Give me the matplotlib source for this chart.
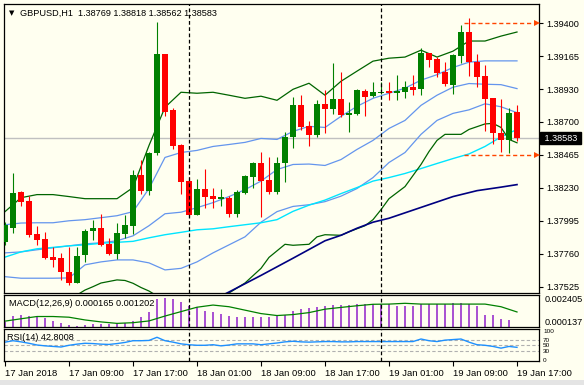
import numpy as np
import matplotlib
matplotlib.use("Agg")
import matplotlib.pyplot as plt
from matplotlib.transforms import blended_transform_factory
from matplotlib.patches import Rectangle

plt.rcParams['font.family'] = ['Liberation Sans', 'DejaVu Sans']

# ---- GBPUSD H1 candles, 17 Jan 01:00 .. 19 Jan 17:00 ----
opens = [1.37846, 1.37946, 1.38202, 1.38138, 1.37903, 1.37867, 1.37739, 1.37732, 1.37632, 1.37553,
         1.37753, 1.37924, 1.37946, 1.37831, 1.37760, 1.37903, 1.37960, 1.38323, 1.38209, 1.38473,
         1.39179, 1.38780, 1.38530, 1.38281, 1.38038, 1.38224, 1.38174, 1.38152, 1.38159, 1.38045,
         1.38195, 1.38309, 1.38409, 1.38288, 1.38202, 1.38402, 1.38587, 1.38815, 1.38666, 1.38601,
         1.38822, 1.38787, 1.38858, 1.38744, 1.38751, 1.38915, 1.38880, 1.38901, 1.38915, 1.38901,
         1.38908, 1.38944, 1.38929, 1.39186, 1.39143, 1.39051, 1.38958, 1.39165, 1.39336, 1.39122,
         1.39022, 1.38865, 1.38616, 1.38566, 1.38769]
highs = [1.37988, 1.38338, 1.38209, 1.38174, 1.37960, 1.37917, 1.37810, 1.37767, 1.37810, 1.37810,
         1.37938, 1.38003, 1.38045, 1.37874, 1.37981, 1.38038, 1.38359, 1.38430, 1.38487, 1.39407,
         1.39179, 1.38794, 1.38544, 1.38309, 1.38295, 1.38366, 1.38231, 1.38224, 1.38174, 1.38216,
         1.38323, 1.38416, 1.38487, 1.38445, 1.38445, 1.38623, 1.38872, 1.38887, 1.38701, 1.38851,
         1.38922, 1.39115, 1.39051, 1.38837, 1.38929, 1.38929, 1.38979, 1.38979, 1.38979, 1.39029,
         1.38986, 1.39029, 1.39222, 1.39186, 1.39158, 1.39122, 1.39179, 1.39386, 1.39436, 1.39179,
         1.39101, 1.38865, 1.38858, 1.38794, 1.38818]
lows = [1.37824, 1.37910, 1.38102, 1.37881, 1.37824, 1.37724, 1.37667, 1.37575, 1.37539, 1.37553,
        1.37703, 1.37860, 1.37817, 1.37753, 1.37724, 1.37874, 1.37903, 1.38188, 1.38181, 1.38459,
        1.38737, 1.38502, 1.38188, 1.38024, 1.38038, 1.38088, 1.38088, 1.38102, 1.38024, 1.38024,
        1.38188, 1.38231, 1.38024, 1.38188, 1.38188, 1.38273, 1.38509, 1.38637, 1.38523, 1.38587,
        1.38616, 1.38751, 1.38730, 1.38623, 1.38744, 1.38737, 1.38872, 1.38894, 1.38851, 1.38851,
        1.38865, 1.38887, 1.38887, 1.39086, 1.39015, 1.38951, 1.38894, 1.39115, 1.39022, 1.38944,
        1.38630, 1.38544, 1.38487, 1.38473, 1.38562]
closes = [1.37967, 1.38195, 1.38131, 1.37896, 1.37860, 1.37732, 1.37717, 1.37632, 1.37553, 1.37746,
          1.37924, 1.37946, 1.37824, 1.37760, 1.37910, 1.37967, 1.38323, 1.38209, 1.38480, 1.39179,
          1.38765, 1.38523, 1.38273, 1.38038, 1.38224, 1.38167, 1.38152, 1.38167, 1.38045, 1.38202,
          1.38316, 1.38409, 1.38281, 1.38202, 1.38409, 1.38587, 1.38815, 1.38658, 1.38601, 1.38822,
          1.38787, 1.38858, 1.38744, 1.38758, 1.38922, 1.38872, 1.38908, 1.38908, 1.38901, 1.38915,
          1.38944, 1.38922, 1.39186, 1.39136, 1.39044, 1.38965, 1.39172, 1.39336, 1.39122, 1.39015,
          1.38858, 1.38616, 1.38566, 1.38758, 1.38583]

# Bollinger bands (outer = dark green, inner + middle = blue), sampled every 2 bars
band_idx = list(range(0, 65, 2))
bb_outer_up = [1.38060, 1.38159, 1.38181, 1.38181, 1.38167, 1.38152, 1.38152, 1.38152, 1.38231, 1.38530,
               1.38801, 1.38908, 1.38901, 1.38908, 1.38887, 1.38865, 1.38880, 1.38851, 1.38929, 1.38972,
               1.38887, 1.38986, 1.39058, 1.39129, 1.39150, 1.39158, 1.39207, 1.39158, 1.39200, 1.39272,
               1.39272, 1.39307, 1.39336]
bb_inner_up = [1.37967, 1.37979, 1.37981, 1.37981, 1.37995, 1.38003, 1.38017, 1.38031, 1.38060, 1.38224,
               1.38445, 1.38480, 1.38495, 1.38523, 1.38537, 1.38552, 1.38580, 1.38573, 1.38630, 1.38666,
               1.38658, 1.38737, 1.38808, 1.38865, 1.38901, 1.38937, 1.38994, 1.39033, 1.39084, 1.39122,
               1.39131, 1.39131, 1.39131]
bb_mid = [1.37767, 1.37774, 1.37789, 1.37803, 1.37817, 1.37831, 1.37839, 1.37853, 1.37888, 1.37960,
          1.38045, 1.38056, 1.38088, 1.38124, 1.38167, 1.38216, 1.38277, 1.38359, 1.38395, 1.38398,
          1.38388, 1.38430, 1.38502, 1.38566, 1.38651, 1.38708, 1.38815, 1.38887, 1.38944, 1.38970,
          1.38965, 1.38962, 1.38934]
bb_inner_dn = [1.37598, 1.37587, 1.37587, 1.37587, 1.37589, 1.37682, 1.37703, 1.37717, 1.37717, 1.37696,
               1.37646, 1.37657, 1.37703, 1.37767, 1.37824, 1.37881, 1.37985, 1.38060, 1.38097, 1.38109,
               1.38131, 1.38170, 1.38224, 1.38302, 1.38409, 1.38480, 1.38609, 1.38708, 1.38758, 1.38783,
               1.38826, 1.38805, 1.38763]
ma_cyan = [1.37737, 1.37774, 1.37796, 1.37806, 1.37817, 1.37824, 1.37835, 1.37842, 1.37849, 1.37874,
           1.37896, 1.37913, 1.37931, 1.37938, 1.37953, 1.37967, 1.37981, 1.38003, 1.38062, 1.38106,
           1.38142, 1.38188, 1.38231, 1.38277, 1.38302, 1.38331, 1.38366, 1.38402, 1.38437, 1.38470,
           1.38523, 1.38591, 1.38644]

# lower outer band: only partly inside the window
bb_outer_dn_idx_a = [9, 10, 11, 12, 13, 14, 15, 16, 17, 18, 19]
bb_outer_dn_a = [1.37468, 1.37503, 1.37527, 1.37553, 1.37564, 1.37575, 1.37571, 1.37551, 1.37521, 1.37496, 1.37461]
bb_outer_dn_idx_b = [27, 28, 30, 32, 33, 35, 36, 38, 39, 40, 42, 43, 45, 46, 47, 48, 50, 52, 53, 54,
                     55, 57, 58, 60, 61, 62, 63, 64]
bb_outer_dn_b = [1.37461, 1.37482, 1.37553, 1.37657, 1.37735, 1.37828, 1.37821, 1.37828, 1.37881, 1.37896,
                 1.37892, 1.37917, 1.37960, 1.38003, 1.38074, 1.38152, 1.38238, 1.38395, 1.38487, 1.38566,
                 1.38609, 1.38609, 1.38644, 1.38683, 1.38687, 1.38658, 1.38573, 1.38549]

ma_navy_idx = [27, 28, 32, 36, 40, 42, 44, 46, 48, 52, 56, 59, 62, 64]
ma_navy = [1.37461, 1.37489, 1.37607, 1.37729, 1.37853, 1.37892, 1.37942, 1.37985, 1.38013, 1.38090,
           1.38167, 1.38209, 1.38234, 1.38252]

bid = 1.38583
hl_levels = [1.39400, 1.38465]
price_ticks = [1.39400, 1.39165, 1.38930, 1.38700, 1.38465, 1.38230, 1.37995, 1.37760, 1.37525]

# MACD(12,26,9)
macd_main = [0.000484, 0.000949, 0.001018, 0.000900, 0.000880, 0.000762, 0.000553, 0.000415, 0.000255, 0.000220,
             0.000255, 0.000373, 0.000373, 0.000373, 0.000415, 0.000415, 0.000553, 0.000880, 0.001178, 0.002108,
             0.002177, 0.002108, 0.001941, 0.001643, 0.001525, 0.001296, 0.001178, 0.001067, 0.000949, 0.000880,
             0.000880, 0.000880, 0.000880, 0.000880, 0.000949, 0.001018, 0.001296, 0.001414, 0.001483, 0.001574,
             0.001643, 0.001712, 0.001712, 0.001712, 0.001761, 0.001761, 0.001761, 0.001761, 0.001761, 0.001643,
             0.001643, 0.001643, 0.001761, 0.001761, 0.001761, 0.001761, 0.001803, 0.001872, 0.001761, 0.001643,
             0.001018, 0.001018, 0.000720, 0.000602, 0.000165]
macd_signal = [0.000553, 0.000720, 0.000880, 0.000880, 0.000831, 0.000637, 0.000498, 0.000394, 0.000442, 0.000567,
               0.000914, 0.001227, 0.001539, 0.001692, 0.001574, 0.001331, 0.001088, 0.000949, 0.001018, 0.001157,
               0.001400, 0.001525, 0.001643, 0.001747, 0.001761, 0.001816, 0.001761, 0.001761, 0.001761, 0.001761,
               0.001761, 0.001574, 0.001202]
macd_range = [0.000137, 0.002405]

# RSI(14)
rsi = [61, 66, 62, 57, 51, 48, 46, 44, 50, 54, 57, 56, 54, 53, 56, 60, 66, 66, 67, 78,
       66, 61, 55, 52, 50, 50, 52, 48, 51, 55, 55, 55, 52, 55, 58, 62, 64, 62, 61, 62,
       63, 63, 62, 62, 63, 63, 63, 63, 63, 63, 63, 63, 72, 66, 63, 68, 70, 72, 61, 52,
       50, 46, 40, 46, 42.8008]
rsi_levels = [70, 50, 30]
rsi_ticks = [100, 70, 50, 30, 0]

time_tick_idx = [0, 8, 16, 24, 32, 40, 48, 56, 64]
time_labels = ['17 Jan 2018', '17 Jan 09:00', '17 Jan 17:00', '18 Jan 01:00', '18 Jan 09:00',
               '18 Jan 17:00', '19 Jan 01:00', '19 Jan 09:00', '19 Jan 17:00']
day_sep_idx = [23, 47]

BG = '#FFFFF0'
UP = '#008000'
DOWN = '#FF0000'
FS = 6.6

W, H = 584, 385


def box(x0, y0, x1, y1):
    return [x0 / W, 1 - y1 / H, (x1 - x0) / W, (y1 - y0) / H]


fig = plt.figure(figsize=(W / 100, H / 100), dpi=100, facecolor=BG)
# window border at the bottom of the terminal
fig.patches.append(Rectangle((0, 0), 1, 5 / H, transform=fig.transFigure, facecolor='#E4E4E4',
                             edgecolor='none'))
ax = fig.add_axes(box(4, 4, 539, 293), facecolor=BG)
axm = fig.add_axes(box(4, 295, 539, 327), facecolor=BG, sharex=ax)
axr = fig.add_axes(box(4, 329, 539, 361), facecolor=BG, sharex=ax)

x = np.arange(len(opens))
o, h, l, c = map(np.array, (opens, highs, lows, closes))
colors = np.where(c >= o, UP, DOWN)

# main window
ax.axhline(bid, color='#C0C0C0', lw=1, zorder=1)
ax.plot(band_idx, bb_outer_up, color='#006400', lw=0.9, zorder=2)
ax.plot(band_idx, bb_inner_up, color='#6495ED', lw=0.9, zorder=2)
ax.plot(band_idx, bb_mid, color='#6495ED', lw=0.9, zorder=2)
ax.plot(band_idx, bb_inner_dn, color='#6495ED', lw=0.9, zorder=2)
ax.plot(band_idx, ma_cyan, color='#00E5FF', lw=1.0, zorder=2)
ax.plot(bb_outer_dn_idx_a, bb_outer_dn_a, color='#006400', lw=0.9, zorder=2)
ax.plot(bb_outer_dn_idx_b, bb_outer_dn_b, color='#006400', lw=0.9, zorder=2)
ax.plot(ma_navy_idx, ma_navy, color='#000080', lw=1.2, zorder=2)

ax.vlines(x, l, h, colors=colors, lw=0.8, zorder=3)
body = np.maximum(np.abs(c - o), 0.00008)
ax.bar(x, body, bottom=np.minimum(o, c), width=0.64, color=colors, linewidth=0, zorder=4)

for lvl in hl_levels:
    ax.plot([57.4, 66.3], [lvl, lvl], color='#FF4500', lw=1, ls=(0, (3, 2)), zorder=5)
    ax.plot([66.55], [lvl], marker='>', color='#FF4500', ms=4.5, mew=0, clip_on=False, zorder=5)

ax.set_ylim(1.37482, 1.39535)
ax.set_xlim(-0.125, 66.75)
ax.yaxis.tick_right()
ax.set_yticks(price_ticks)
ax.set_yticklabels([f'{v:.5f}' for v in price_ticks])
ax.tick_params(axis='y', length=3, width=0.8, labelsize=FS, pad=2)
ax.tick_params(axis='x', bottom=False, labelbottom=False)

trans = blended_transform_factory(ax.transAxes, ax.transData)
ax.text(1.005, bid, f' {bid:.5f} ', transform=trans, color='white', fontsize=FS, va='center', ha='left',
        bbox=dict(facecolor='black', edgecolor='black', boxstyle='square,pad=0.2'), clip_on=False, zorder=6)

fig.text(12 / W, 1 - 13 / H, '\u25bc', fontsize=5, family='DejaVu Sans', va='center', ha='center')
fig.text(20 / W, 1 - 13 / H, f'GBPUSD,H1  {opens[-1]:.5f} {highs[-1]:.5f} {lows[-1]:.5f} {closes[-1]:.5f}',
         fontsize=FS, va='center', ha='left')

# MACD window
axm.vlines(x, 0, macd_main, colors='#9932CC', lw=1.2)
axm.plot(band_idx, macd_signal, color='#008000', lw=0.9)
axm.set_ylim(*macd_range)
axm.yaxis.tick_right()
axm.set_yticks([macd_range[1], macd_range[0]])
axm.set_yticklabels([f'{macd_range[1]:.6f}', f'{macd_range[0]:.6f}'])
axm.tick_params(axis='y', length=0, labelsize=FS, pad=4)
labs = axm.get_yticklabels()
labs[0].set_verticalalignment('top')
labs[1].set_verticalalignment('bottom')
axm.tick_params(axis='x', bottom=False, labelbottom=False)
axm.text(0.01, 0.72, f'MACD(12,26,9) {macd_main[-1]:.6f} {macd_signal[-1]:.6f}', transform=axm.transAxes,
         fontsize=FS, va='center', ha='left')

# RSI window
for lv in rsi_levels:
    axr.axhline(lv, color='#B0B0B0', lw=0.8, ls=(0, (3, 2)))
axr.plot(x, rsi, color='#1E90FF', lw=1.0)
axr.set_ylim(-5, 107)
axr.yaxis.tick_right()
axr.set_yticks(rsi_ticks)
axr.set_yticklabels([str(t) for t in rsi_ticks])
axr.tick_params(axis='y', length=0, labelsize=4.6, pad=3)
axr.text(0.005, 0.72, f'RSI(14) {rsi[-1]:.4f}', transform=axr.transAxes,
         fontsize=FS, va='center', ha='left')
axr.set_xticks(time_tick_idx)
axr.set_xticklabels(time_labels, ha='left')
axr.tick_params(axis='x', length=3.5, width=0.8, labelsize=FS + 0.2, pad=2)

for a in (ax, axm, axr):
    for s in day_sep_idx:
        a.axvline(s, color='black', lw=0.9, ls=(0, (3, 2)), zorder=5)
    for sp in a.spines.values():
        sp.set_color('black')
        sp.set_linewidth(0.9)

fig.savefig('out.png', dpi=100, facecolor=BG)
